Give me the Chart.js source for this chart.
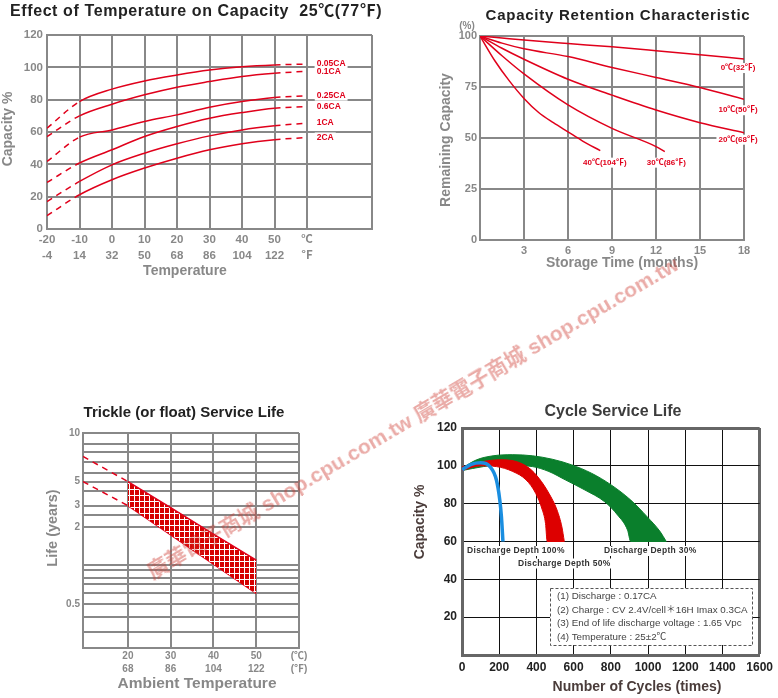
<!DOCTYPE html>
<html>
<head>
<meta charset="utf-8">
<title>Battery characteristics</title>
<script src="https://cdn.jsdelivr.net/npm/chart.js@4.4.1/dist/chart.umd.min.js"></script>
<style>
  html, body { margin: 0; padding: 0; background: #fff; }
  #page { position: relative; width: 778px; height: 698px; overflow: hidden; background: #fff; }
  .panel { position: absolute; }
  #watermark {
    position: absolute; left: 154px; top: 561px; z-index: 10;
    font: bold 21px Arial, "Liberation Sans", "Noto Sans CJK TC", sans-serif;
    line-height: 21px; white-space: nowrap; color: rgba(205, 55, 45, 0.42);
    transform-origin: 0 100%; transform: rotate(-30.5deg); pointer-events: none;
  }
</style>
</head>
<body>
<div id="page">
  <div class="panel" style="left:0;top:0"><canvas id="tempChart" width="390" height="280"></canvas></div>
  <div class="panel" style="left:390px;top:0"><canvas id="retentionChart" width="388" height="280"></canvas></div>
  <div class="panel" style="left:0;top:400px"><canvas id="trickleChart" width="320" height="298"></canvas></div>
  <div class="panel" style="left:400px;top:400px"><canvas id="cycleChart" width="378" height="298"></canvas></div>
  <div id="watermark">廣華電子商城 shop.cpu.com.tw 廣華電子商城 shop.cpu.com.tw</div>
</div>
<script>
// ---------- data: effect of temperature on capacity ----------
const TEMP_C = [-20, -10, 0, 10, 20, 30, 40, 50, 60];
const TEMP_C_LABELS = ['-20', '-10', '0', '10', '20', '30', '40', '50', '℃'];
const TEMP_F_LABELS = ['-4', '14', '32', '50', '68', '86', '104', '122', '℉'];
const RATE_NAMES = ['0.05CA', '0.1CA', '0.25CA', '0.6CA', '1CA', '2CA'];
const CAP_005 = [62.4, 78.8, 86.5, 91.6, 95.3, 98.4, 100.4, 101.5, 102];
const CAP_01 = [57.2, 70, 77.2, 83, 87.7, 91.2, 94.3, 96.3, 97.6];
const CAP_025 = [41.8, 56.8, 61.3, 66.5, 70.6, 75.3, 78.8, 81.3, 82.5];
const CAP_06 = [28.8, 40.8, 49, 57.2, 63.4, 68.5, 72, 74.7, 75.7];
const CAP_1 = [17, 29.4, 39.7, 46.9, 52.7, 57.6, 61.3, 63.8, 65.5];
const CAP_2 = [8.2, 21.2, 30.5, 37.7, 43.8, 49, 52.7, 55.2, 56.6];

// ---------- data: capacity retention ----------
const RET_NAMES = ['0℃(32℉)', '10℃(50℉)', '20℃(68℉)', '30℃(86℉)', '40℃(104℉)'];
const MONTHS_LONG = [0, 1.5, 3, 6, 9, 12, 15, 18];
const RET_0C = [100, 99, 98, 96.3, 94.7, 92.8, 90.8, 88.7];
const RET_10C = [100, 96.5, 93.7, 89.9, 84.6, 79.7, 74.8, 69];
const RET_20C = [100, 94, 88.6, 78.8, 71, 63.7, 57.5, 52.6];
const MONTHS_30C = [0, 1.5, 3, 6, 9, 12, 12.6];
const RET_30C = [100, 90.3, 81.4, 66.2, 54.7, 45.8, 43.3];
const MONTHS_40C = [0, 1, 2, 3, 4, 5, 6, 7, 8.2];
const RET_40C = [100, 88, 78, 69.4, 62.5, 57.5, 53, 48.5, 43.8];
const MONTH_TICKS = [3, 6, 9, 12, 15, 18];

// ---------- data: trickle service life ----------
const AMBIENT_C = [20, 30, 40, 50];
const AMBIENT_TICKS = [20, 30, 40, 50, 60];
const AMBIENT_C_LABELS = ['20', '30', '40', '50', '(℃)'];
const AMBIENT_F_LABELS = ['68', '86', '104', '122', '(℉)'];
const LIFE_UPPER = [5, 2.9, 1.82, 1.13];
const LIFE_LOWER = [3, 1.8, 1.02, 0.6];
const EXTRAP_C = [9.5, 20];
const LIFE_UPPER_EXTRAP = [7.6, 5];
const LIFE_LOWER_EXTRAP = [5, 3];
const LIFE_LABELED = [10, 5, 3, 2, 0.5];
const LIFE_GRID = [10, 9, 8, 7, 6, 5, 4, 3, 2.5, 2, 1, 0.9, 0.8, 0.7, 0.6, 0.5, 0.4, 0.3, 0.2];

// ---------- data: cycle service life ----------
const BLUE_CYCLES = [0, 50, 100, 150, 185, 203, 212, 220];
const BLUE_CAP = [98, 100.8, 101.6, 99.6, 92.5, 82, 73, 60];
const RED_TOP_CYCLES = [0, 115, 203, 291, 361, 414, 467, 511, 537, 550];
const RED_TOP_CAP = [99.4, 102.3, 103.2, 102.3, 98.8, 93.4, 85.5, 76.6, 67.7, 60];
const RED_BOT_CYCLES = [0, 97, 185, 273, 344, 396, 432, 449, 458, 550];
const RED_BOT_CAP = [97.5, 100, 99.6, 97, 92.6, 85.5, 76.6, 69.5, 60, 60];
const GREEN_TOP_CYCLES = [0, 79, 167, 273, 379, 485, 590, 696, 802, 907, 996, 1066, 1098];
const GREEN_TOP_CAP = [98.8, 103.2, 105.3, 105.9, 105.3, 103.5, 100.5, 96.1, 89.9, 81.9, 73, 65.1, 60];
const GREEN_BOT_CYCLES = [0, 115, 203, 379, 467, 555, 661, 767, 837, 890, 907, 1098];
const GREEN_BOT_CAP = [97.5, 99.6, 100.5, 99.6, 97, 92.6, 87.2, 81, 73.9, 66, 60, 60];
const DEPTH_NAMES = ['Discharge Depth 100%', 'Discharge Depth 50%', 'Discharge Depth 30%'];
const TEST_NOTES = [
  '(1) Discharge : 0.17CA',
  '(2) Charge : CV 2.4V/cell＊16H Imax 0.3CA',
  '(3) End of life discharge voltage : 1.65 Vpc',
  '(4) Temperature : 25±2℃'
];

// ---------- common look ----------
const FONT = 'Arial, "Liberation Sans", "Noto Sans CJK TC", sans-serif';
const RED = '#e0001b';
const GREY = '#888888';
const DARK = '#222222';
Chart.defaults.font.family = FONT;
Chart.defaults.animation = false;
Chart.defaults.plugins.legend.display = false;
Chart.defaults.plugins.tooltip.enabled = false;
Chart.defaults.elements.point.radius = 0;

function pts(xs, ys) {
  return xs.map((x, i) => ({ x: x, y: ys[i] }));
}

function text(ctx, str, x, y, font, color, align, angle, spacing) {
  ctx.save();
  ctx.font = font;
  ctx.fillStyle = color;
  ctx.textAlign = align || 'center';
  ctx.textBaseline = 'middle';
  if (spacing) ctx.letterSpacing = spacing + 'px';
  ctx.translate(x, y);
  if (angle) ctx.rotate(angle);
  ctx.fillText(str, 0, 0);
  ctx.restore();
}

// label sitting on a white patch, so grid lines stop behind it
function patchText(ctx, str, x, y, font, color, align, spacing) {
  ctx.save();
  ctx.font = font;
  if (spacing) ctx.letterSpacing = spacing + 'px';
  const w = ctx.measureText(str).width;
  const left = align === 'left' ? x : x - w / 2;
  ctx.fillStyle = '#fff';
  ctx.fillRect(left - 2, y - 5, w + 4, 10);
  ctx.restore();
  text(ctx, str, x, y, font, color, align, 0, spacing);
}

// y axis for the trickle chart: the printed grid is not a true log scale,
// so values are placed between the drawn grid lines
const LIFE_GRID_AT = [1, 0.95, 0.9095, 0.863, 0.816, 0.774, 0.731, 0.662, 0.619, 0.5615,
  0.386, 0.362, 0.3265, 0.3, 0.254, 0.204, 0.1446, 0.0746, 0];

class LifeScale extends Chart.LinearScale {
  static id = 'life';
  lifeToDecimal(v) {
    if (v >= LIFE_GRID[0]) return 1;
    for (let i = 0; i < LIFE_GRID.length - 1; i++) {
      const hi = LIFE_GRID[i], lo = LIFE_GRID[i + 1];
      if (v <= hi && v >= lo) {
        const t = (v - lo) / (hi - lo);
        return LIFE_GRID_AT[i + 1] + t * (LIFE_GRID_AT[i] - LIFE_GRID_AT[i + 1]);
      }
    }
    return 0;
  }
  getPixelForValue(v) {
    return this.getPixelForDecimal(this.lifeToDecimal(v));
  }
  getValueForPixel(px) {
    const d = this.getDecimalForPixel(px);
    for (let i = 0; i < LIFE_GRID.length - 1; i++) {
      const hi = LIFE_GRID_AT[i], lo = LIFE_GRID_AT[i + 1];
      if (d <= hi && d >= lo) {
        const t = (d - lo) / (hi - lo);
        return LIFE_GRID[i + 1] + t * (LIFE_GRID[i] - LIFE_GRID[i + 1]);
      }
    }
    return d > 1 ? LIFE_GRID[0] : LIFE_GRID[LIFE_GRID.length - 1];
  }
}
Chart.register(LifeScale);

// ================= 1. Effect of temperature on capacity =================
const capSeries = [CAP_005, CAP_01, CAP_025, CAP_06, CAP_1, CAP_2];

new Chart(document.getElementById('tempChart'), {
  type: 'line',
  data: {
    datasets: capSeries.map((vals, i) => ({
      label: RATE_NAMES[i],
      data: pts(TEMP_C, vals),
      borderColor: RED,
      borderWidth: 1.5,
      cubicInterpolationMode: 'monotone',
      segment: {
        borderDash: s => (s.p0.parsed.x < -10 || s.p0.parsed.x >= 50) ? [6, 5] : undefined
      }
    }))
  },
  options: {
    responsive: false,
    layout: { padding: { top: 35, right: 18, left: 0, bottom: 0 } },
    scales: {
      x: {
        type: 'linear', min: -20, max: 80,
        afterFit: s => { s.height = 51; },
        ticks: {
          stepSize: 10, autoSkip: false, maxRotation: 0, padding: 3, color: GREY,
          font: { size: 11.5, weight: 'bold', lineHeight: 1.4 },
          callback: v => {
            const i = TEMP_C.indexOf(v);
            return i < 0 ? '' : [TEMP_C_LABELS[i], TEMP_F_LABELS[i]];
          }
        },
        grid: {
          color: c => (c.tick && c.tick.value === 70) ? 'rgba(0,0,0,0)' : GREY,
          lineWidth: 2, drawTicks: false
        },
        border: { color: GREY, width: 2 }
      },
      y: {
        min: 0, max: 120,
        afterFit: s => { s.width = 47; },
        ticks: { stepSize: 20, padding: 4, color: GREY, font: { size: 11.5, weight: 'bold' } },
        grid: { color: GREY, lineWidth: 2, drawTicks: false },
        border: { color: GREY, width: 2 }
      }
    }
  },
  plugins: [{
    id: 'tempText',
    afterDatasetsDraw(chart) {
      const ctx = chart.ctx, xs = chart.scales.x, ys = chart.scales.y;
      capSeries.forEach((vals, i) => {
        patchText(ctx, RATE_NAMES[i], xs.getPixelForValue(63), ys.getPixelForValue(vals[vals.length - 1]),
          'bold 8.5px ' + FONT, RED, 'left');
      });
      text(ctx, 'Effect of Temperature on Capacity  25℃(77℉)', 10, 12, 'bold 16px ' + FONT, DARK, 'left', 0, 0.6);
      text(ctx, 'Capacity %', 8, 129, 'bold 14px ' + FONT, GREY, 'center', -Math.PI / 2);
      text(ctx, 'Temperature', 185, 271, 'bold 14px ' + FONT, GREY, 'center');
    }
  }]
});

// ================= 2. Capacity retention =================
const retSeries = [
  [MONTHS_LONG, RET_0C], [MONTHS_LONG, RET_10C], [MONTHS_LONG, RET_20C],
  [MONTHS_30C, RET_30C], [MONTHS_40C, RET_40C]
];
const RET_LABEL_SHIFT = [[-6, 9], [-6, 11], [-6, 7], [1.5, 11], [4.5, 12]];

new Chart(document.getElementById('retentionChart'), {
  type: 'line',
  data: {
    datasets: retSeries.map((s, i) => ({
      label: RET_NAMES[i],
      data: pts(s[0], s[1]),
      borderColor: RED,
      borderWidth: 1.5,
      cubicInterpolationMode: 'monotone'
    }))
  },
  options: {
    responsive: false,
    layout: { padding: { top: 36, right: 34, left: 0, bottom: 0 } },
    scales: {
      x: {
        type: 'linear', min: 0, max: 18,
        afterFit: s => { s.height = 40; },
        ticks: {
          stepSize: 3, padding: 4, color: GREY, maxRotation: 0,
          font: { size: 11, weight: 'bold' },
          callback: v => MONTH_TICKS.includes(v) ? String(v) : ''
        },
        grid: { color: GREY, lineWidth: 2, drawTicks: false },
        border: { color: GREY, width: 2 }
      },
      y: {
        min: 0, max: 100,
        afterFit: s => { s.width = 90; },
        ticks: { stepSize: 25, padding: 3, color: GREY, font: { size: 11, weight: 'bold' } },
        grid: { color: GREY, lineWidth: 2, drawTicks: false },
        border: { color: GREY, width: 2 }
      }
    }
  },
  plugins: [{
    id: 'retText',
    afterDatasetsDraw(chart) {
      const ctx = chart.ctx, xs = chart.scales.x, ys = chart.scales.y;
      retSeries.forEach((s, i) => {
        const n = s[0].length - 1;
        const px = xs.getPixelForValue(s[0][n]) + RET_LABEL_SHIFT[i][0];
        const py = ys.getPixelForValue(s[1][n]) + RET_LABEL_SHIFT[i][1];
        patchText(ctx, RET_NAMES[i], px, py, 'bold 8px ' + FONT, RED, 'center');
      });
      text(ctx, 'Capacity Retention Characteristic', 228, 16, 'bold 15px ' + FONT, DARK, 'center', 0, 0.75);
      text(ctx, '(%)', 77, 26, 'bold 10px ' + FONT, GREY, 'center');
      text(ctx, 'Remaining Capacity', 56, 140, 'bold 14px ' + FONT, GREY, 'center', -Math.PI / 2);
      text(ctx, 'Storage Time (months)', 232, 263, 'bold 14px ' + FONT, GREY, 'center');
    }
  }]
});

// ================= 3. Trickle (float) service life =================
function hatchPattern() {
  const c = document.createElement('canvas');
  c.width = 5; c.height = 6;
  const g = c.getContext('2d');
  g.fillStyle = '#d60000';
  g.fillRect(0, 0, 5, 6);
  g.fillStyle = '#ffffff';
  g.fillRect(4, 0, 1, 6);
  g.fillRect(0, 5, 5, 1);
  return g.createPattern(c, 'repeat');
}

new Chart(document.getElementById('trickleChart'), {
  type: 'line',
  data: {
    datasets: [
      { label: 'upper', data: pts(AMBIENT_C, LIFE_UPPER), borderColor: RED, borderWidth: 1.5,
        fill: '+1', backgroundColor: hatchPattern() },
      { label: 'lower', data: pts(AMBIENT_C, LIFE_LOWER), borderColor: RED, borderWidth: 1.5 },
      { label: 'upper extrap', data: pts(EXTRAP_C, LIFE_UPPER_EXTRAP), borderColor: RED, borderWidth: 1.5, borderDash: [6, 5] },
      { label: 'lower extrap', data: pts(EXTRAP_C, LIFE_LOWER_EXTRAP), borderColor: RED, borderWidth: 1.5, borderDash: [6, 5] }
    ]
  },
  options: {
    responsive: false,
    layout: { padding: { top: 33, right: 21, left: 0, bottom: 0 } },
    scales: {
      x: {
        type: 'linear', min: 9.5, max: 60,
        afterFit: s => { s.height = 50; },
        afterBuildTicks: s => { s.ticks = AMBIENT_TICKS.map(v => ({ value: v })); },
        ticks: {
          autoSkip: false, maxRotation: 0, padding: 2, color: GREY,
          font: { size: 10, weight: 'bold', lineHeight: 1.25 },
          callback: v => {
            const i = AMBIENT_TICKS.indexOf(v);
            return i < 0 ? '' : [AMBIENT_C_LABELS[i], AMBIENT_F_LABELS[i]];
          }
        },
        grid: { color: GREY, lineWidth: 2, drawTicks: false },
        border: { color: GREY, width: 2 }
      },
      y: {
        type: 'life', min: 0.2, max: 10,
        afterFit: s => { s.width = 83; },
        afterBuildTicks: s => { s.ticks = LIFE_GRID.map(v => ({ value: v })); },
        ticks: {
          autoSkip: false, padding: 3, color: GREY, font: { size: 10, weight: 'bold' },
          callback: v => LIFE_LABELED.includes(v) ? String(v) : ''
        },
        grid: { color: GREY, lineWidth: 2, drawTicks: false },
        border: { color: GREY, width: 2 }
      }
    }
  },
  plugins: [{
    id: 'trickleText',
    afterDatasetsDraw(chart) {
      const ctx = chart.ctx;
      text(ctx, 'Trickle (or float) Service Life', 184, 13, 'bold 15px ' + FONT, DARK, 'center');
      text(ctx, 'Life (years)', 53, 128, 'bold 14.5px ' + FONT, GREY, 'center', -Math.PI / 2);
      text(ctx, 'Ambient Temperature', 197, 284, 'bold 15.5px ' + FONT, GREY, 'center');
    }
  }]
});

// ================= 4. Cycle service life =================
const BLUE = '#1a8ee0';
const BAND_RED = '#dd0000';
const GREEN = '#0a7f2c';
const DEPTH_SHIFT = [[13, 9.5], [0, 22], [-16, 9.5]];

new Chart(document.getElementById('cycleChart'), {
  type: 'line',
  data: {
    datasets: [
      { label: DEPTH_NAMES[0], data: pts(BLUE_CYCLES, BLUE_CAP), borderColor: BLUE, borderWidth: 3.5,
        cubicInterpolationMode: 'monotone' },
      { label: DEPTH_NAMES[1], data: pts(RED_TOP_CYCLES, RED_TOP_CAP), borderColor: BAND_RED, borderWidth: 1,
        cubicInterpolationMode: 'monotone', fill: '+1', backgroundColor: BAND_RED },
      { label: 'red lower', data: pts(RED_BOT_CYCLES, RED_BOT_CAP), borderColor: BAND_RED, borderWidth: 1,
        cubicInterpolationMode: 'monotone' },
      { label: DEPTH_NAMES[2], data: pts(GREEN_TOP_CYCLES, GREEN_TOP_CAP), borderColor: GREEN, borderWidth: 1,
        cubicInterpolationMode: 'monotone', fill: '+1', backgroundColor: GREEN },
      { label: 'green lower', data: pts(GREEN_BOT_CYCLES, GREEN_BOT_CAP), borderColor: GREEN, borderWidth: 1,
        cubicInterpolationMode: 'monotone' }
    ]
  },
  options: {
    responsive: false,
    layout: { padding: { top: 28, right: 14, left: 0, bottom: 0 } },
    scales: {
      x: {
        type: 'linear', min: 0, max: 1600,
        afterFit: s => { s.height = 43; },
        ticks: { stepSize: 200, autoSkip: false, maxRotation: 0, padding: 5, color: DARK,
          font: { size: 12, weight: 'bold' }, callback: v => String(v) },
        grid: {
          color: c => (c.tick && c.tick.value === 1600) ? '#666' : '#111',
          lineWidth: c => (c.tick && c.tick.value === 1600) ? 3 : 1,
          drawTicks: false
        },
        border: { color: '#666', width: 3 }
      },
      y: {
        min: 0, max: 120,
        afterFit: s => { s.width = 62; },
        ticks: { stepSize: 20, padding: 5, color: DARK, font: { size: 12, weight: 'bold' },
          callback: v => v === 0 ? '' : String(v) },
        grid: {
          color: c => (c.tick && c.tick.value === 120) ? '#666' : '#111',
          lineWidth: c => (c.tick && c.tick.value === 120) ? 3 : 1,
          drawTicks: false
        },
        border: { color: '#666', width: 3 }
      }
    }
  },
  plugins: [{
    id: 'cycleText',
    afterDatasetsDraw(chart) {
      const ctx = chart.ctx, xs = chart.scales.x, ys = chart.scales.y;
      const ends = [
        [BLUE_CYCLES[BLUE_CYCLES.length - 1], BLUE_CAP[BLUE_CAP.length - 1]],
        [RED_TOP_CYCLES[RED_TOP_CYCLES.length - 1], RED_TOP_CAP[RED_TOP_CAP.length - 1]],
        [GREEN_TOP_CYCLES[GREEN_TOP_CYCLES.length - 1], GREEN_TOP_CAP[GREEN_TOP_CAP.length - 1]]
      ];
      ends.forEach((e, i) => {
        patchText(ctx, DEPTH_NAMES[i], xs.getPixelForValue(e[0]) + DEPTH_SHIFT[i][0],
          ys.getPixelForValue(e[1]) + DEPTH_SHIFT[i][1], 'bold 8.5px ' + FONT, '#333', 'center', 0.3);
      });
      // notes box
      ctx.save();
      ctx.fillStyle = '#fff';
      ctx.fillRect(150, 188, 202, 57);
      ctx.strokeStyle = '#555';
      ctx.lineWidth = 1;
      ctx.setLineDash([3, 2]);
      ctx.strokeRect(150.5, 188.5, 202, 57);
      ctx.restore();
      const rows = [196.7, 210.7, 223.7, 237.7];
      TEST_NOTES.forEach((t, i) => text(ctx, t, 157, rows[i], '9.8px ' + FONT, '#444', 'left'));

      text(ctx, 'Cycle Service Life', 213, 12, 'bold 16px ' + FONT, '#3c3c3c', 'center');
      text(ctx, 'Capacity %', 20, 122, 'bold 14px ' + FONT, '#4a3c3a', 'center', -Math.PI / 2);
      text(ctx, 'Number of Cycles (times)', 237, 287, 'bold 14px ' + FONT, '#4a3c3a', 'center');
    }
  }]
});
</script>
</body>
</html>
